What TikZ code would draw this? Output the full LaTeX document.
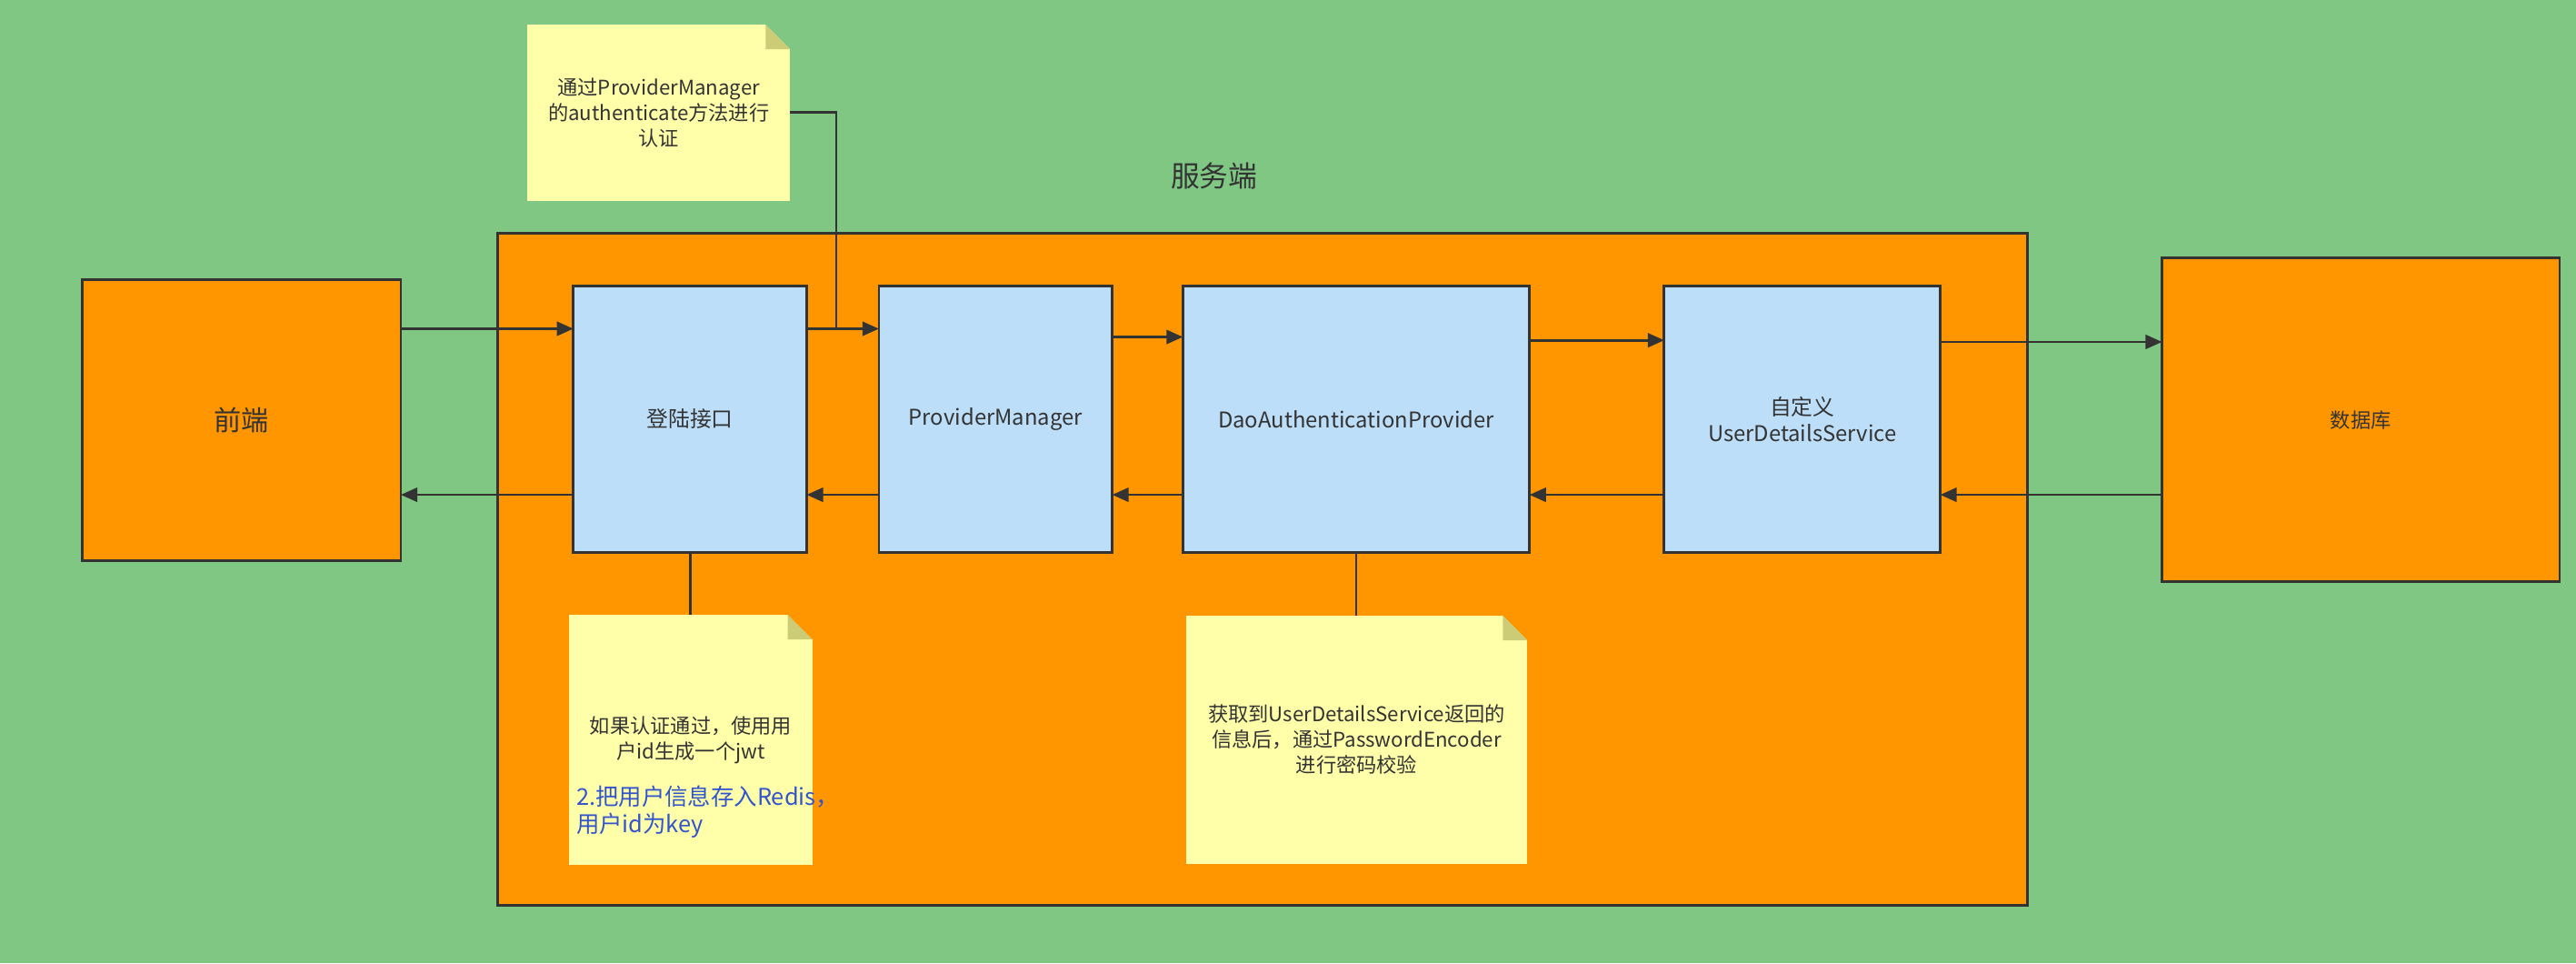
\documentclass[tikz,border=0pt]{standalone}
\usepackage{fontspec}
\setmainfont{Noto Sans CJK SC}
\usetikzlibrary{arrows.meta, positioning, calc}
\definecolor{cbg}{HTML}{7FC783}
\definecolor{corange}{HTML}{FF9600}
\definecolor{cblue}{HTML}{BDDEF8}
\definecolor{cnote}{HTML}{FFFFAA}
\definecolor{cfold}{HTML}{CCCC77}
\definecolor{cline}{HTML}{333333}
\definecolor{clink}{HTML}{3355CC}
\tikzset{
  every picture/.style={font=\fontsize{7.5}{9}\selectfont, line width=0.9pt},
  box/.style={draw=cline, fill=#1, text=cline, align=center, inner sep=0pt, outer sep=0pt},
  box/.default=cblue,
  note/.style={fill=cnote, text=cline, align=center, inner sep=0pt, outer sep=0pt,
    font=\fontsize{7}{8.8}\selectfont,
    path picture={
      \fill[#1] (path picture bounding box.north east) -- ++(-3mm,0) -- ++(3mm,-3mm) -- cycle;
      \fill[cfold] ([xshift=-3mm]path picture bounding box.north east) -- ++(0,-3mm) -- ++(3mm,0) -- cycle;
    }},
  arrow/.style={-{Triangle[length=2mm, width=1.7mm]}, draw=cline, fill=cline},
  link/.style={draw=cline},
}

\begin{document}
\begin{tikzpicture}[x=0.2mm, y=-0.2mm]
  \fill[cbg] (0,0) rectangle (1568,586);
  % outer parts
  \node[box=corange, minimum width=38.8mm, minimum height=34.2mm, font=\fontsize{9.5}{11}\selectfont] (front) at (147,255.5) {前端};
  \node[box=corange, minimum width=186.2mm, minimum height=81.8mm] (server) at (768.5,346.5) {};
  \node[text=cline, font=\fontsize{10}{12}\selectfont] (stitle) at (739,107) {服务端};
  \node[box=corange, minimum width=48.4mm, minimum height=39.4mm, font=\fontsize{7}{9}\selectfont] (db) at (1437,255.5) {数据库};
  % server chain
  \node[box, minimum width=28.4mm, minimum height=32.4mm] (login) at (420,255) {登陆接口};
  \node[box, minimum width=28.4mm, minimum height=32.4mm] (pm) at (606,255) {ProviderManager};
  \node[box, minimum width=42.2mm, minimum height=32.4mm] (dao) at (825.5,255) {DaoAuthenticationProvider};
  \node[box, minimum width=33.6mm, minimum height=32.4mm] (uds) at (1097,255) {自定义\\UserDetailsService};
  % forward calls
  \draw[arrow] (front.east |- 0,200) -- (login.west |- 0,200);
  \draw[arrow] (login.east |- 0,200) -- (pm.west |- 0,200);
  \draw[arrow] (pm.east |- 0,205) -- (dao.west |- 0,205);
  \draw[arrow] (dao.east |- 0,207) -- (uds.west |- 0,207);
  \draw[arrow] (uds.east |- 0,208) -- (db.west |- 0,208);
  % returns
  \draw[arrow] (db.west |- 0,301) -- (uds.east |- 0,301);
  \draw[arrow] (uds.west |- 0,301) -- (dao.east |- 0,301);
  \draw[arrow] (dao.west |- 0,301) -- (pm.east |- 0,301);
  \draw[arrow] (pm.west |- 0,301) -- (login.east |- 0,301);
  \draw[arrow] (login.west |- 0,301) -- (front.east |- 0,301);
  % notes
  \node[note=cbg, minimum width=32mm, minimum height=21.4mm] (note1) at (401,68.5) {通过ProviderManager\\的authenticate方法进行\\认证};
  \node[note=corange, minimum width=29.6mm, minimum height=30.4mm] (note2) at (420.5,450) {如果认证通过，使用用\\户id生成一个jwt};
  \node[anchor=north west, inner sep=0pt, text=clink, align=left, font=\fontsize{8}{9.6}\selectfont] (redis) at (350,477) {2.把用户信息存入Redis，\\用户id为key};
  \node[note=corange, minimum width=41.6mm, minimum height=30.2mm] (note3) at (825.75,450) {获取到UserDetailsService返回的\\信息后，通过PasswordEncoder\\进行密码校验};
  \coordinate (tap) at (509,199);
  \draw[link] (note1.east) -| (tap);
  \draw[link] (login.south) -- (login.south |- note2.north);
  \draw[link] (dao.south) -- (dao.south |- note3.north);
\end{tikzpicture}
\end{document}
